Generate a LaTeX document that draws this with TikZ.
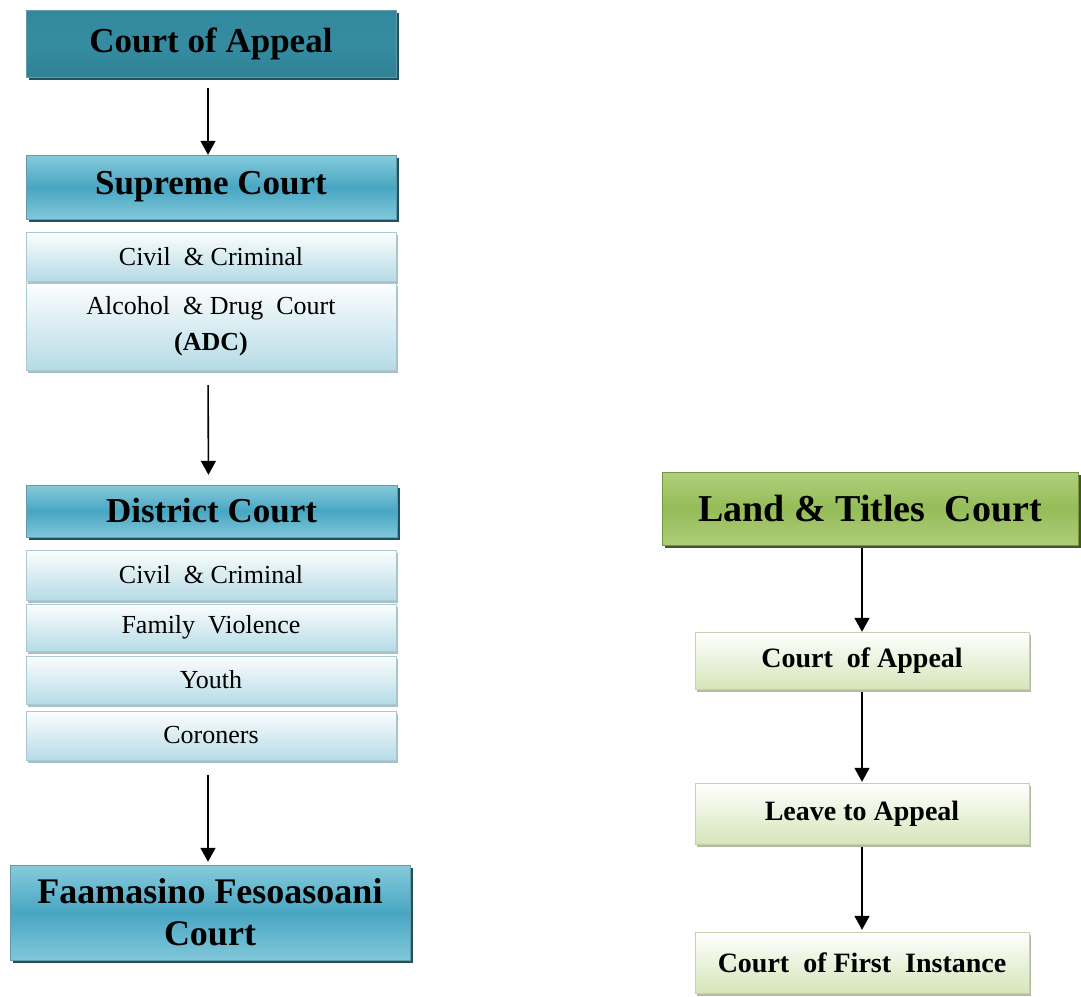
\documentclass[tikz,border=0pt]{standalone}
\usepackage{fontspec}
\setmainfont{Liberation Serif}
\usetikzlibrary{positioning, calc, shadows, arrows.meta}

\definecolor{tealtop}{RGB}{135,203,220}
\definecolor{tealmid}{RGB}{72,166,194}
\definecolor{tealdark}{RGB}{50,136,156}
\definecolor{tealline}{RGB}{40,110,130}
\definecolor{paleblue}{RGB}{182,219,230}
\definecolor{greentop}{RGB}{178,207,124}
\definecolor{greenmid}{RGB}{148,188,88}
\definecolor{palegreen}{RGB}{214,229,186}

\tikzset{
  courtbox/.style={draw=tealline!70, thin, inner sep=0pt, align=center,
    top color=tealtop, bottom color=tealtop!90!tealmid, middle color=tealmid,
    drop shadow={shadow xshift=3pt, shadow yshift=-3pt, fill=tealline!75!black, opacity=1},
    font=\fontsize{35}{42}\selectfont\bfseries},
  subbox/.style={draw=paleblue!80!gray, thin, inner sep=0pt, align=center,
    top color=white!96!paleblue, bottom color=paleblue,
    drop shadow={shadow xshift=2pt, shadow yshift=-3pt, fill=paleblue!70!gray, opacity=1},
    font=\fontsize{26}{36}\selectfont},
  landbox/.style={draw=greenmid!80!black, thin, inner sep=0pt, align=center,
    top color=greentop, bottom color=greentop!90!greenmid, middle color=greenmid,
    drop shadow={shadow xshift=3pt, shadow yshift=-3pt, fill=greenmid!45!black, opacity=1},
    font=\fontsize{38}{42}\selectfont\bfseries},
  tierbox/.style={draw=palegreen!80!gray, thin, inner sep=0pt, align=center,
    top color=white, bottom color=palegreen,
    drop shadow={shadow xshift=2pt, shadow yshift=-3pt, fill=palegreen!60!gray, opacity=1},
    font=\fontsize{28}{34}\selectfont\bfseries},
  arr/.style={-{Triangle[width=15pt,length=14pt]}, line width=1.6pt, black}
}

\begin{document}
\begin{tikzpicture}[x=1pt, y=-1pt]
  \useasboundingbox (0,0) rectangle (1081,996);

  % left column
  \node[courtbox, minimum width=370pt, minimum height=67pt,
        top color=tealdark, bottom color=tealdark!95!black, middle color=tealdark!85!tealmid]
        at (211,43.5) (coa) {Court of Appeal};                                  %top
  \node[courtbox, minimum width=370pt, minimum height=64pt] at (211,187)   (sup)   {Supreme Court};
  \node[subbox,   minimum width=370pt, minimum height=49pt] at (211,256.5) (civa)  {Civil \ \& Criminal};
  \node[subbox,   minimum width=370pt, minimum height=87pt] at (211,326.5) (adc)   {Alcohol \ \& Drug \ Court\\\textbf{(ADC)}};
  \node[courtbox, minimum width=371pt, minimum height=52pt] at (211.5,511) (dist)  {District Court};
  \node[subbox,   minimum width=370pt, minimum height=50pt] at (211,575)   (civb)  {Civil \ \& Criminal};
  \node[subbox,   minimum width=370pt, minimum height=47pt] at (211,627.5) (fam)   {Family \ Violence};
  \node[subbox,   minimum width=370pt, minimum height=48pt] at (211,680)   (youth) {Youth};
  \node[subbox,   minimum width=370pt, minimum height=49pt] at (211,735.5) (cor)   {Coroners};
  \node[courtbox, minimum width=400pt, minimum height=95pt,
        font=\fontsize{36}{42}\selectfont\bfseries]
        at (210,912.5) (faa) {Faamasino Fesoasoani\\Court};                     %bottom

  % right column
  \node[landbox, minimum width=416pt, minimum height=73pt] at (870,508.5) (land)  {Land \& Titles \ Court};
  \node[tierbox, minimum width=334pt, minimum height=57pt] at (862,660.5) (rcoa)  {Court \ of Appeal};
  \node[tierbox, minimum width=334pt, minimum height=61pt] at (862,813.5) (leave) {Leave to Appeal};
  \node[tierbox, minimum width=334pt, minimum height=61pt] at (862,962.5) (first) {Court \ of First \ Instance};

  % arrows
  \draw[arr, shorten <=11pt]                 ([xshift=-3pt]coa.south) -- ([xshift=-3pt]sup.north);
  \draw[arr, shorten <=15pt, shorten >=10pt] ([xshift=-3pt]adc.south) -- ([xshift=-3pt]dist.north);
  \draw[arr, shorten <=15pt, shorten >=3pt]  ([xshift=-3pt]cor.south) -- ([xshift=-2pt]faa.north);
  \draw[arr, shorten <=3pt]                  (land.south -| rcoa.north) -- (rcoa.north);
  \draw[arr, shorten <=3pt, shorten >=1pt]   (rcoa.south) -- (leave.north);
  \draw[arr, shorten <=3pt, shorten >=2pt]   (leave.south) -- (first.north);
\end{tikzpicture}
\end{document}
